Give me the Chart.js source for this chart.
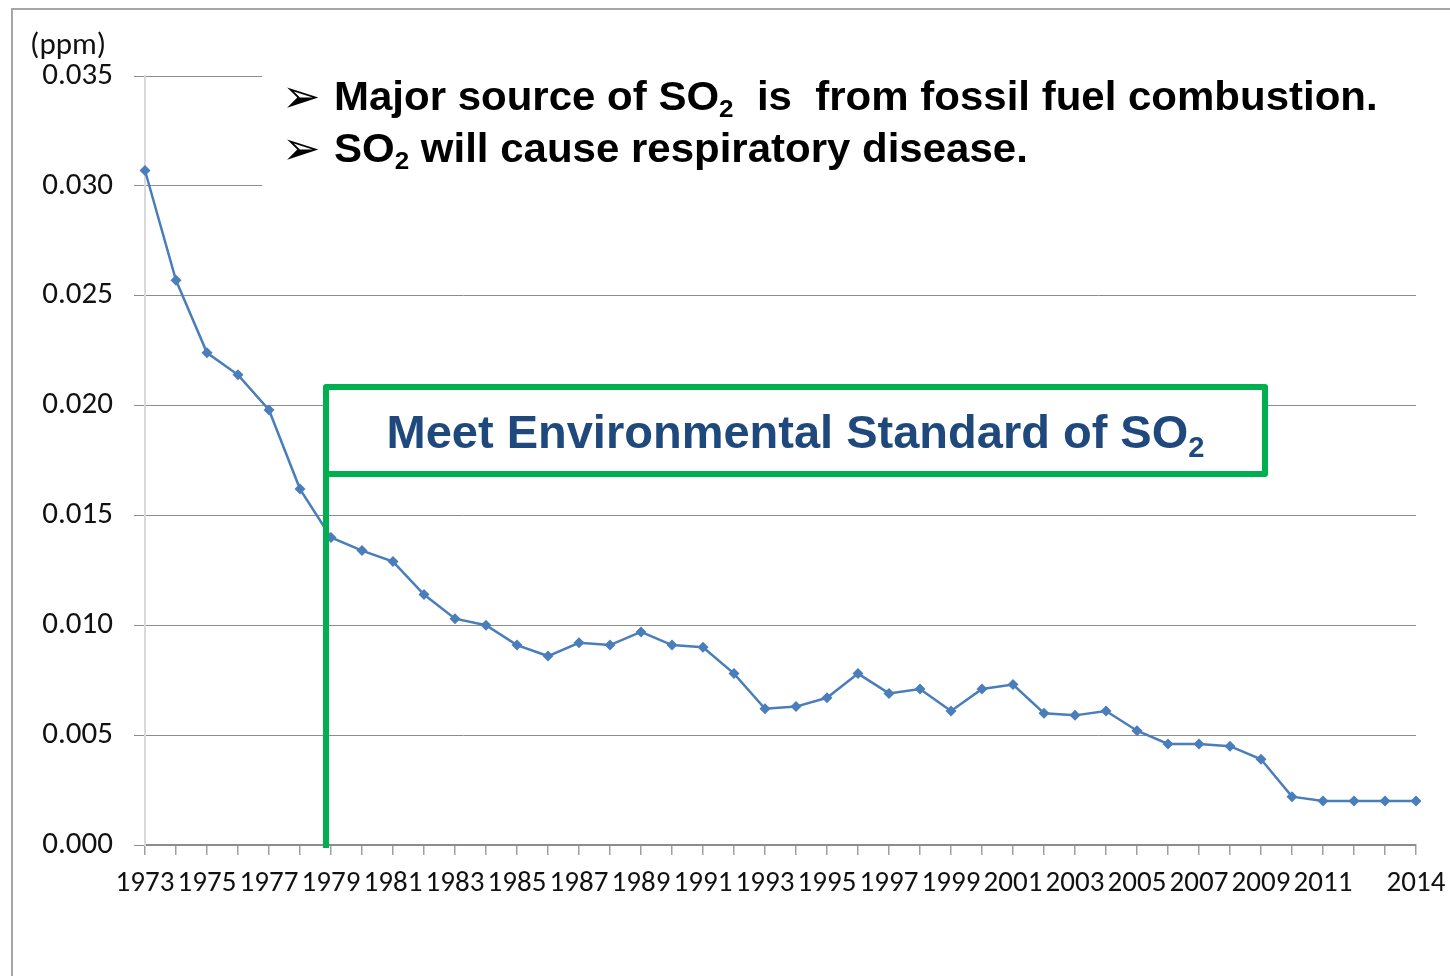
<!DOCTYPE html>
<html lang="en">
<head>
  <meta charset="UTF-8">
  <title>SO2 concentration 1973-2014</title>
  <script src="https://cdn.jsdelivr.net/npm/chart.js"></script>
  <style>
    body { margin: 0; background: #fff; }
    #wrap { position: relative; width: 1450px; height: 976px; overflow: hidden; }
    #frame { position: absolute; left: 11px; top: 8px; right: -10px; bottom: -10px;
             border-left: 2px solid #a6a6a6; border-top: 2px solid #a6a6a6; }
    #unit { position: absolute; left: 30px; top: 24px; font: 31px Carlito, "Liberation Sans", sans-serif; color: #111; }
    #notes { position: absolute; left: 262px; top: 62px; width: 1180px; height: 132px; background: #fff; }
    .note { position: absolute; left: 72px; font: bold 40px "Liberation Sans", Arial, sans-serif;
            line-height: 40px; white-space: pre; color: #000;
            transform: scaleX(1.05); transform-origin: left center; }
    .arrow { position: absolute; left: 20px; font: 46px "DejaVu Sans", sans-serif; line-height: 40px; color: #000; }
    .sub { font-size: 0.62em; position: relative; top: 0.3em; }
    #stdbox { position: absolute; left: 323px; top: 384px; width: 933px; height: 81px;
              border: 6px solid #00b050; border-radius: 3px; background: #fff;
              font: bold 47px "Liberation Sans", Arial, sans-serif; color: #1f497d;
              text-align: center; line-height: 47px; white-space: pre; }
    #stdbox span.t { position: absolute; left: 0; right: 0; top: 18px; }
    #stdline { position: absolute; left: 323px; top: 470px; width: 6px; height: 378px; background: #00b050; }
  </style>
</head>
<body>
  <div id="wrap">
    <canvas id="so2Chart"></canvas>
    <div id="frame"></div>
    <div id="unit">(ppm)</div>
    <div id="notes">
      <div class="arrow" style="top:14px">➢</div>
      <div class="note" style="top:14px">Major source of SO<span class="sub">2</span>  is  from fossil fuel combustion.</div>
      <div class="arrow" style="top:66px">➢</div>
      <div class="note" style="top:66px">SO<span class="sub">2</span> will cause respiratory disease.</div>
    </div>
    <div id="stdline"></div>
    <div id="stdbox"><span class="t">Meet Environmental Standard of SO<span class="sub">2</span></span></div>
  </div>

  <script>
    // yearly SO2 averages (ppm)
    var years = [1973, 1974, 1975, 1976, 1977, 1978, 1979, 1980, 1981, 1982,
                 1983, 1984, 1985, 1986, 1987, 1988, 1989, 1990, 1991, 1992,
                 1993, 1994, 1995, 1996, 1997, 1998, 1999, 2000, 2001, 2002,
                 2003, 2004, 2005, 2006, 2007, 2008, 2009, 2010, 2011, 2012,
                 2013, 2014];
    var so2 = [0.0307, 0.0257, 0.0224, 0.0214, 0.0198, 0.0162, 0.0140, 0.0134, 0.0129, 0.0114,
               0.0103, 0.0100, 0.0091, 0.0086, 0.0092, 0.0091, 0.0097, 0.0091, 0.0090, 0.0078,
               0.0062, 0.0063, 0.0067, 0.0078, 0.0069, 0.0071, 0.0061, 0.0071, 0.0073, 0.0060,
               0.0059, 0.0061, 0.0052, 0.0046, 0.0046, 0.0045, 0.0039, 0.0022, 0.0020, 0.0020,
               0.0020, 0.0020];
    // only these years get a label under the axis
    var shownYears = [1973, 1975, 1977, 1979, 1981, 1983, 1985, 1987, 1989, 1991,
                      1993, 1995, 1997, 1999, 2001, 2003, 2005, 2007, 2009, 2011, 2014];
    var yTicks = [0, 0.005, 0.010, 0.015, 0.020, 0.025, 0.030, 0.035];

    var fontFamily = 'Carlito, "Liberation Sans", sans-serif';

    var ctx = document.getElementById('so2Chart').getContext('2d');
    new Chart(ctx, {
      type: 'line',
      data: {
        labels: years.map(String),
        datasets: [{
          data: so2,
          borderColor: '#4a7ebb',
          backgroundColor: '#4a7ebb',
          borderWidth: 2.5,
          pointStyle: 'rectRot',
          pointRadius: 5.5,
          pointBorderWidth: 0,
          tension: 0
        }]
      },
      options: {
        responsive: true,
        maintainAspectRatio: false,
        animation: false,
        layout: { padding: { top: 76, right: 34, left: 0, bottom: 0 } },
        plugins: { legend: { display: false }, tooltip: { enabled: false } },
        scales: {
          x: {
            offset: false,
            afterFit: function (s) { s.height = 131; s.paddingRight = 0; s.paddingLeft = 0; },
            grid: { drawOnChartArea: false, drawTicks: true, tickLength: 10, color: '#a0a0a0', lineWidth: 1.5 },
            border: { color: '#8c8c8c', width: 1.5 },
            ticks: {
              autoSkip: false, maxRotation: 0, padding: 11, color: '#111',
              font: { family: fontFamily, size: 29 },
              callback: function (v, i) {
                return shownYears.indexOf(years[i]) >= 0 ? String(years[i]) : '';
              }
            }
          },
          y: {
            min: 0, max: 0.035,
            afterFit: function (s) { s.width = 145; },
            afterBuildTicks: function (s) { s.ticks = yTicks.map(function (v) { return { value: v }; }); },
            grid: { color: '#8c8c8c', lineWidth: 1, tickLength: 11 },
            border: { color: '#d9d9d9', width: 2 },
            ticks: {
              padding: 21, color: '#111',
              font: { family: fontFamily, size: 31 },
              callback: function (v) { return v.toFixed(3); }
            }
          }
        }
      }
    });
  </script>
</body>
</html>
